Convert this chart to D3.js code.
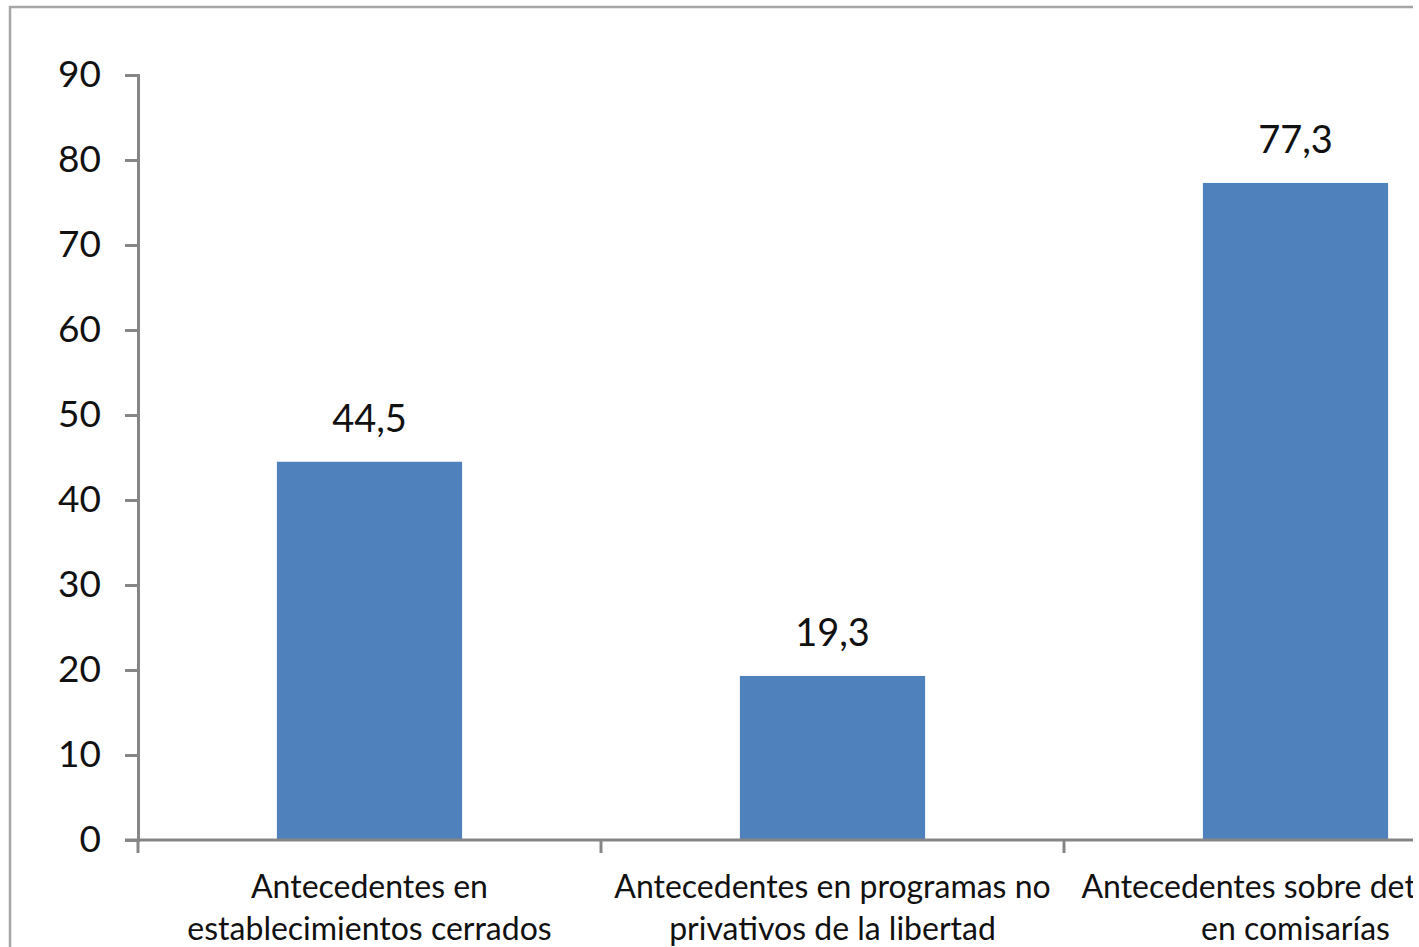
<!DOCTYPE html>
<html>
<head>
<meta charset="utf-8">
<script src="https://cdn.jsdelivr.net/npm/d3@7"></script>
<style>
  html, body { margin: 0; padding: 0; background: #fff; }
  svg { display: block; }
  text { font-family: Lato, "Open Sans", sans-serif; }
</style>
</head>
<body>
<div id="chart"></div>
<script>
const categories = [
  ["Antecedentes en", "establecimientos cerrados"],
  ["Antecedentes en programas no", "privativos de la libertad"],
  ["Antecedentes sobre detención", "en comisarías"]
];
const values = [44.5, 19.3, 77.3];
const yTicks = [0, 10, 20, 30, 40, 50, 60, 70, 80, 90];

const width = 1419;
const height = 947;

const svg = d3.select("#chart")
  .append("svg")
  .attr("width", width)
  .attr("height", height);

// the picture is cropped on the right, so clip everything there
svg.append("clipPath")
  .attr("id", "crop")
  .append("rect")
  .attr("x", 0).attr("y", 0)
  .attr("width", 1413).attr("height", height);

const g = svg.append("g").attr("clip-path", "url(#crop)");

// outer frame (runs off the right and bottom)
g.append("rect")
  .attr("x", 10).attr("y", 7)
  .attr("width", 1500).attr("height", 1000)
  .attr("fill", "none")
  .attr("stroke", "#a6a6a6")
  .attr("stroke-width", 2.5);

const x = d3.scaleBand()
  .domain(d3.range(categories.length))
  .range([138, 1527])
  .paddingInner(0.6)
  .paddingOuter(0.3);

const y = d3.scaleLinear()
  .domain([0, 90])
  .range([840, 75]);

// bars
g.selectAll("rect.bar")
  .data(values)
  .enter()
  .append("rect")
  .attr("class", "bar")
  .attr("x", (d, i) => x(i))
  .attr("y", d => y(d))
  .attr("width", x.bandwidth())
  .attr("height", d => y(0) - y(d))
  .attr("fill", "#4f81bd");

// value labels
g.selectAll("text.value")
  .data(values)
  .enter()
  .append("text")
  .attr("class", "value")
  .attr("x", (d, i) => x(i) + x.bandwidth() / 2)
  .attr("y", d => y(d) - 30)
  .attr("text-anchor", "middle")
  .attr("font-size", 38)
  .attr("fill", "#111")
  .text(d => d.toFixed(1).replace(".", ","));

// y axis
const yAxis = g.append("g")
  .attr("transform", "translate(138,0)")
  .call(d3.axisLeft(y).tickValues(yTicks).tickSize(13).tickPadding(24));

yAxis.select(".domain").attr("stroke", "#868686").attr("stroke-width", 3);
yAxis.selectAll(".tick line").attr("stroke", "#868686").attr("stroke-width", 3);
yAxis.selectAll(".tick text")
  .attr("font-size", 37)
  .attr("fill", "#111")
  .attr("font-family", "Lato, 'Open Sans', sans-serif");

// x axis line
g.append("line")
  .attr("x1", 125).attr("x2", 1527)
  .attr("y1", y(0)).attr("y2", y(0))
  .attr("stroke", "#868686")
  .attr("stroke-width", 3);

// category separators
const step = x.step();
const boundaries = d3.range(categories.length + 1).map(i => 138 + i * step);
g.selectAll("line.sep")
  .data(boundaries)
  .enter()
  .append("line")
  .attr("class", "sep")
  .attr("x1", d => d).attr("x2", d => d)
  .attr("y1", y(0)).attr("y2", y(0) + 13)
  .attr("stroke", "#868686")
  .attr("stroke-width", 3);

// category labels
const labels = g.selectAll("text.cat")
  .data(categories)
  .enter()
  .append("text")
  .attr("class", "cat")
  .attr("x", (d, i) => x(i) + x.bandwidth() / 2)
  .attr("y", 898)
  .attr("text-anchor", "middle")
  .attr("font-size", 32)
  .attr("fill", "#111");

labels.selectAll("tspan")
  .data(d => d)
  .enter()
  .append("tspan")
  .attr("x", function () { return d3.select(this.parentNode).attr("x"); })
  .attr("dy", (d, i) => i === 0 ? 0 : 42)
  .text(d => d);
</script>
</body>
</html>
